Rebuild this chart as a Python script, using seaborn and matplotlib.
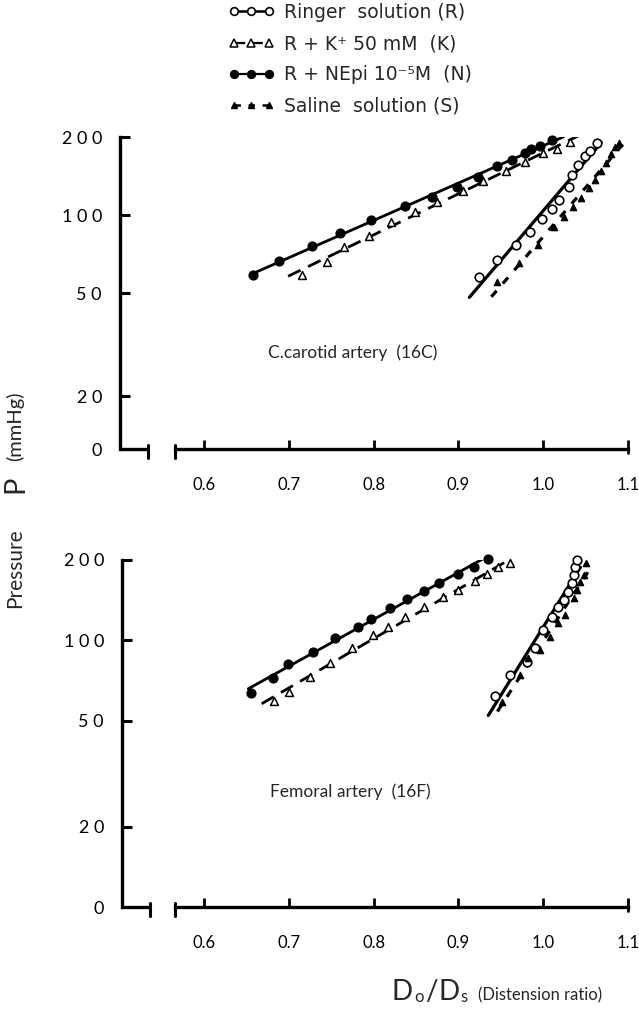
import numpy as np
import pandas as pd
import matplotlib
matplotlib.use("Agg")
import matplotlib.pyplot as plt
import seaborn as sns
from matplotlib.lines import Line2D
from matplotlib.ticker import NullLocator, FixedLocator, FixedFormatter

sns.set_theme(style="white")
plt.rcParams['font.family'] = ['Lato', 'DejaVu Sans']

# ---------------- data ----------------
# Common carotid artery (16C)
top_R_x = [0.924, 0.946, 0.968, 0.984, 0.998, 1.010, 1.019, 1.030, 1.034, 1.041, 1.049, 1.055, 1.063]
top_R_p = [57.4, 67.1, 76.3, 86.1, 96.8, 105.7, 114.6, 127.7, 142.6, 156, 169.2, 176.9, 189.2]
top_K_x = [0.715, 0.745, 0.765, 0.794, 0.821, 0.849, 0.875, 0.906, 0.929, 0.956, 0.979, 1.000, 1.016, 1.032]
top_K_p = [58.6, 65.8, 75.5, 82.9, 94.2, 103, 112.5, 124.3, 135.5, 147.8, 160.6, 173, 179.4, 191.7]
top_N_x = [0.658, 0.689, 0.727, 0.760, 0.797, 0.837, 0.869, 0.898, 0.923, 0.945, 0.963, 0.979, 0.986, 0.996, 1.010]
top_N_p = [58.6, 66.4, 75.9, 84.9, 95.6, 108, 117, 128, 140, 154, 163, 173, 179, 185, 194]
top_S_x = [0.946, 0.971, 0.994, 1.013, 1.024, 1.035, 1.044, 1.054, 1.061, 1.068, 1.074, 1.080, 1.085, 1.089]
top_S_p = [55.3, 65.0, 76.5, 89.5, 98.5, 107.6, 116.5, 126.7, 136.8, 147.8, 158.8, 171.8, 183.5, 189]

# Femoral artery (16F)
bot_R_x = [0.943, 0.961, 0.981, 0.990, 1.000, 1.010, 1.018, 1.024, 1.029, 1.034, 1.036, 1.038, 1.040]
bot_R_p = [61.9, 74.2, 83.2, 93.3, 109.5, 122.7, 133.1, 141.7, 152.2, 163.6, 175.8, 189, 200]
bot_K_x = [0.682, 0.700, 0.725, 0.749, 0.774, 0.799, 0.817, 0.837, 0.859, 0.882, 0.900, 0.920, 0.934, 0.947, 0.961]
bot_K_p = [59.4, 64.0, 72.9, 82.1, 93.4, 104.7, 111.9, 122.0, 132.9, 145, 154.5, 166.9, 177.3, 187.6, 195.5]
bot_N_x = [0.655, 0.681, 0.699, 0.729, 0.754, 0.782, 0.797, 0.819, 0.839, 0.859, 0.877, 0.900, 0.918, 0.935]
bot_N_p = [63.7, 72.1, 81.5, 90.7, 101.8, 111.9, 119.9, 131.9, 142.5, 153.5, 164.4, 177.3, 188.8, 202.6]
bot_S_x = [0.951, 0.973, 0.982, 0.996, 1.008, 1.018, 1.026, 1.036, 1.040, 1.043, 1.048, 1.051]
bot_S_p = [58.9, 74.2, 85.7, 92.1, 103.3, 115.9, 124.5, 143.9, 154.5, 166, 175.8, 194.5]

series_labels = ["Ringer  solution (R)", "R + K\u207a 50 mM  (K)",
                 "R + NEpi 10\u207b\u2075M  (N)", "Saline  solution (S)"]
x_ticks = [0.6, 0.7, 0.8, 0.9, 1.0, 1.1]
x_ticklabels = ["0.6", "0.7", "0.8", "0.9", "1.0", "1.1"]
y_ticks = [20, 50, 100, 200]
y_ticklabels = ["0", "2 0", "5 0", "1 0 0", "2 0 0"]
panel_titles = ["C.carotid artery  (16C)", "Femoral artery  (16F)"]

# ---------------- styles ----------------
STY = {
    "R": dict(marker="o", fc="white", s=38, lw_m=1.2, ls="-", lw=2.3, ext=0.08),
    "K": dict(marker="^", fc="white", s=32, lw_m=1.1, ls=(0, (5, 3)), lw=2.0, ext=0.05),
    "N": dict(marker="o", fc="black", s=40, lw_m=1.0, ls="-", lw=2.0, ext=0.01),
    "S": dict(marker="^", fc="black", s=20, lw_m=1.0, ls=(0, (2.5, 3)), lw=2.3, ext=0.05),
}

W, H = 639, 1013
fig = plt.figure(figsize=(W / 100, H / 100), dpi=100)


def rect(l, t, r, b):
    return [l / W, 1 - b / H, (r - l) / W, (b - t) / H]


def fit_line(x, p, ext):
    x = np.asarray(x, float)
    lp = np.log10(np.asarray(p, float))
    m, b = np.polyfit(x, lp, 1)
    span = x.max() - x.min()
    xs = np.linspace(x.min() - ext * span, x.max() + 0.04 * span, 2)
    return pd.DataFrame({"x": xs, "P": 10 ** (m * xs + b)})


def draw_panel(ax, data, ymin, xleft, stub_end, axis_start, title, title_xy):
    ax.set_yscale("log")
    for key, (xs, ps) in data.items():
        st = STY[key]
        line = fit_line(xs, ps, st["ext"])
        sns.lineplot(data=line, x="x", y="P", ax=ax, color="black",
                     linewidth=st["lw"], linestyle=st["ls"], legend=False)
        df = pd.DataFrame({"x": xs, "P": ps})
        sns.scatterplot(data=df, x="x", y="P", ax=ax, marker=st["marker"],
                        s=st["s"], facecolor=st["fc"], edgecolor="black",
                        linewidth=st["lw_m"], legend=False, zorder=3, clip_on=False)
    ax.set_xlim(xleft, 1.1)
    ax.set_ylim(ymin, 200)
    ax.set_xlabel("")
    ax.set_ylabel("")
    for s in ["top", "right"]:
        ax.spines[s].set_visible(False)
    for s in ["left", "bottom"]:
        ax.spines[s].set_linewidth(2.4)
        ax.spines[s].set_color("black")
    ax.spines["bottom"].set_bounds(axis_start, 1.1)
    yt = [ymin] + y_ticks
    ax.yaxis.set_major_locator(FixedLocator(yt))
    ax.yaxis.set_major_formatter(FixedFormatter(y_ticklabels))
    ax.yaxis.set_minor_locator(NullLocator())
    ax.xaxis.set_major_locator(FixedLocator(x_ticks))
    ax.xaxis.set_major_formatter(FixedFormatter(x_ticklabels))
    ax.xaxis.set_minor_locator(NullLocator())
    ax.tick_params(axis="y", which="major", length=0, pad=13, labelsize=13,
                   labelcolor="black")
    ax.tick_params(axis="x", which="major", length=0, pad=20, labelsize=12,
                   labelcolor="black")
    pos = ax.get_position()
    hpx = pos.height * H
    wpx = pos.width * W
    # inward tick marks
    trx = ax.get_xaxis_transform()
    try_ = ax.get_yaxis_transform()
    for xt in x_ticks:
        ax.add_line(Line2D([xt, xt], [0, 9 / hpx], transform=trx, color="black",
                           lw=2.0, clip_on=False, solid_capstyle="butt"))
    for v in y_ticks:
        ax.add_line(Line2D([0, 10 / wpx], [v, v], transform=try_, color="black",
                           lw=2.2, clip_on=False, solid_capstyle="butt"))
    # broken-axis stub between the y axis and the start of the x axis
    d = 9 / hpx
    u = 4 / hpx
    ax.add_line(Line2D([xleft, stub_end], [0, 0], transform=trx, color="black",
                       lw=2.4, clip_on=False, solid_capstyle="butt"))
    ax.add_line(Line2D([stub_end, stub_end], [-d, u], transform=trx, color="black",
                       lw=2.2, clip_on=False))
    ax.add_line(Line2D([axis_start, axis_start], [-d, u], transform=trx, color="black",
                       lw=2.2, clip_on=False))
    ax.add_line(Line2D([1.1, 1.1], [-u, 0], transform=trx, color="black",
                       lw=2.0, clip_on=False))
    fig.text(title_xy[0] / W, 1 - title_xy[1] / H, title, fontsize=12.5,
             ha="left", va="center")


ax1 = fig.add_axes(rect(120, 137, 628, 449))
ax2 = fig.add_axes(rect(122, 560, 628, 907))

draw_panel(ax1, {"N": (top_N_x, top_N_p), "K": (top_K_x, top_K_p),
                 "R": (top_R_x, top_R_p), "S": (top_S_x, top_S_p)},
           12.5, 0.6 - 84 / 848, 0.6 - 56 / 848, 0.6 - 29 / 848,
           panel_titles[0], (268, 353))
draw_panel(ax2, {"N": (bot_N_x, bot_N_p), "K": (bot_K_x, bot_K_p),
                 "R": (bot_R_x, bot_R_p), "S": (bot_S_x, bot_S_p)},
           10.0, 0.6 - 82 / 848, 0.6 - 54 / 848, 0.6 - 29 / 848,
           panel_titles[1], (270, 792))

# legend
handles = []
for key in ["R", "K", "N", "S"]:
    st = STY[key]
    ms = np.sqrt(st["s"]) * 0.9
    handles.append(Line2D([], [], color="black", lw=st["lw"] * 0.8, linestyle=st["ls"],
                          marker=st["marker"], markersize=ms, markerfacecolor=st["fc"],
                          markeredgecolor="black", markeredgewidth=st["lw_m"]))
fig.legend(handles, series_labels, loc="upper left",
           bbox_to_anchor=(228 / W, 1 - 3 / H), frameon=False,
           prop={"family": ["DejaVu Sans"], "size": 13.5},
           handlelength=2.5, handletextpad=0.5, labelspacing=0.65,
           borderpad=0, borderaxespad=0, numpoints=3)

# y label
fig.text(15 / W, 1 - 568 / H, "Pressure", rotation=90, fontsize=15,
         ha="center", va="center")
fig.text(15 / W, 1 - 484 / H, "P", rotation=90, fontsize=21,
         ha="center", va="center")
fig.text(15 / W, 1 - 426 / H, "(mmHg)", rotation=90, fontsize=14.5,
         ha="center", va="center")

# x label, pieces laid out one after the other
renderer = fig.canvas.get_renderer()
base = 1 - 1000 / H
pieces = [("D", 20, 0), ("o", 12, 2), ("/", 20, 0), ("D", 20, 0), ("s", 12, 2),
          ("(Distension ratio)", 12, 0)]
xpos = 392
for i, (txt, fs, drop) in enumerate(pieces):
    if i == len(pieces) - 1:
        xpos += 10
    t = fig.text(xpos / W, base - drop / H, txt, fontsize=fs, ha="left", va="baseline")
    bb = t.get_window_extent(renderer)
    xpos = bb.x1 + 1

fig.savefig("out.png", dpi=100, facecolor="white")
